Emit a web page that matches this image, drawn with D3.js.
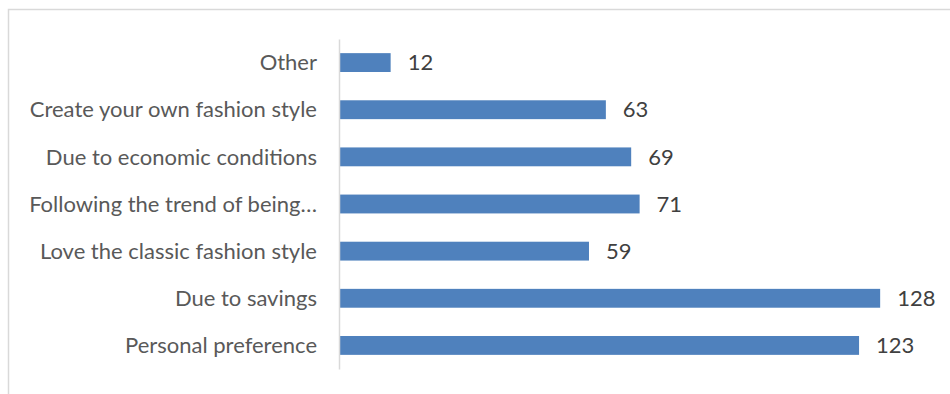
<!DOCTYPE html>
<html>
<head>
<meta charset="utf-8">
<script src="https://cdn.jsdelivr.net/npm/d3@7"></script>
<style>
  html, body { margin: 0; padding: 0; background: #fff; }
  svg { display: block; }
  text { font-family: Lato, "Noto Sans", sans-serif; }
</style>
</head>
<body>
<svg id="chart" width="950" height="394"></svg>
<script>
// Reasons for choosing second-hand / classic fashion (number of respondents)
const categories = [
  "Other",
  "Create your own fashion style",
  "Due to economic conditions",
  "Following the trend of being…",
  "Love the classic fashion style",
  "Due to savings",
  "Personal preference"
];
const values = [12, 63, 69, 71, 59, 128, 123];

const width = 950, height = 394;
const margin = { top: 39, right: 70, bottom: 25, left: 339 };
const svg = d3.select("#chart");

// chart frame (top and left edges visible)
svg.append("path")
  .attr("d", `M8.5,${height} V9.5 H${width}`)
  .attr("fill", "none")
  .attr("stroke", "#d9d9d9")
  .attr("stroke-width", 1.5);

const x = d3.scaleLinear()
  .domain([0, 140])
  .range([margin.left + 1, margin.left + 1 + 140 * 4.22]);

const y = d3.scaleBand()
  .domain(categories)
  .range([margin.top, height - margin.bottom])
  .paddingInner(0.6)
  .paddingOuter(0.3);

const data = categories.map((c, i) => ({ cat: c, val: values[i] }));

svg.append("g")
  .selectAll("rect")
  .data(data)
  .join("rect")
  .attr("x", x(0))
  .attr("y", d => y(d.cat))
  .attr("width", d => x(d.val) - x(0))
  .attr("height", y.bandwidth())
  .attr("fill", "#4f81bd");

// category axis
const yAxis = d3.axisLeft(y).tickSize(0).tickPadding(22);
const gy = svg.append("g")
  .attr("transform", `translate(${margin.left},0)`)
  .call(yAxis);
gy.select(".domain")
  .attr("stroke", "#d9d9d9")
  .attr("stroke-width", 1.5);
gy.selectAll("text")
  .attr("fill", "#595959")
  .style("font-size", "22px")
  .attr("dy", "0.35em");

// value labels
svg.append("g")
  .selectAll("text")
  .data(data)
  .join("text")
  .attr("x", d => x(d.val) + 17)
  .attr("y", d => y(d.cat) + y.bandwidth() / 2)
  .attr("dy", "0.35em")
  .attr("fill", "#404040")
  .style("font-size", "22px")
  .text(d => d.val);
</script>
</body>
</html>
